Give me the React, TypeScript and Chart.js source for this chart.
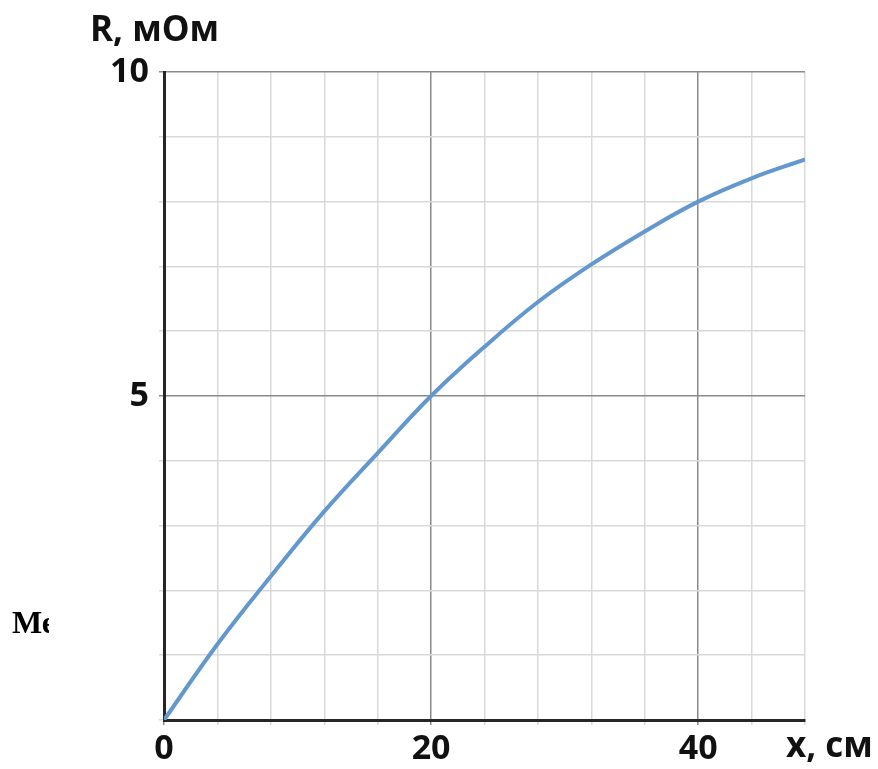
import React, { useEffect, useRef } from "react";
import { Chart, registerables } from "chart.js";

Chart.register(...registerables);

const xValues = [0, 4, 8, 12, 16, 20, 24, 28, 32, 36, 40, 44, 48];
const rValues = [0, 1.17, 2.22, 3.22, 4.12, 5.0, 5.76, 6.45, 7.03, 7.54, 8.0, 8.36, 8.65];
const xLabeled = [0, 20, 40];
const yLabeled = [5, 10];
const yTitle = "R, мОм";
const xTitle = "x, см";
const strayText = "Ме";

const FONT = "'Open Sans', 'DejaVu Sans', sans-serif";
const MINOR = "#d9d9d9";
const MAJOR = "#8a8a8a";

export default function App() {
  const ref = useRef<HTMLCanvasElement | null>(null);

  useEffect(() => {
    if (!ref.current) return;
    const chart = new Chart(ref.current, {
      type: "line",
      data: {
        datasets: [
          {
            data: xValues.map((x, i) => ({ x, y: rValues[i] })),
            borderColor: "#6298cd",
            borderWidth: 4,
            pointRadius: 0,
            tension: 0.4,
            fill: false,
          },
        ],
      },
      options: {
        animation: false,
        responsive: true,
        maintainAspectRatio: false,
        layout: { padding: { left: 0, top: 72, right: 73, bottom: 0 } },
        plugins: { legend: { display: false }, tooltip: { enabled: false } },
        scales: {
          x: {
            type: "linear",
            min: 0,
            max: 48,
            afterFit: (s: any) => {
              s.height = 49;
            },
            ticks: {
              stepSize: 4,
              autoSkip: false,
              maxRotation: 0,
              padding: 4,
              color: "#111",
              font: { family: FONT, size: 34, weight: "bold" },
              callback: (v: any) => (xLabeled.includes(Number(v)) ? String(v) : ""),
            },
            grid: {
              color: (c: any) => (xLabeled.includes(c.tick?.value) ? MAJOR : MINOR),
              tickColor: (c: any) => (xLabeled.includes(c.tick?.value) ? MAJOR : MINOR),
              lineWidth: 1.5,
              tickLength: 5,
            },
            border: { color: "#262626", width: 3 },
          },
          y: {
            min: 0,
            max: 10,
            afterFit: (s: any) => {
              s.width = 164;
            },
            ticks: {
              stepSize: 1,
              autoSkip: false,
              padding: 10,
              color: "#111",
              font: { family: FONT, size: 34, weight: "bold" },
              callback: (v: any) => (yLabeled.includes(Number(v)) ? String(v) : ""),
            },
            grid: {
              color: (c: any) => (yLabeled.includes(c.tick?.value) ? MAJOR : MINOR),
              tickColor: (c: any) => (yLabeled.includes(c.tick?.value) ? MAJOR : MINOR),
              lineWidth: 1.5,
              tickLength: 5,
            },
            border: { color: "#262626", width: 3 },
          },
        },
      },
    });
    return () => chart.destroy();
  }, []);

  const titleStyle: React.CSSProperties = {
    position: "absolute",
    fontFamily: FONT,
    fontWeight: 700,
    fontSize: 35,
    color: "#111",
    lineHeight: 1,
    whiteSpace: "nowrap",
  };

  return (
    <div style={{ position: "absolute", left: 0, top: 0, width: 878, height: 769, background: "#fff", overflow: "hidden" }}>
      <canvas ref={ref} />
      <div style={{ ...titleStyle, left: 90, top: 10 }}>{yTitle}</div>
      <div style={{ ...titleStyle, left: 786, top: 726 }}>{xTitle}</div>
      <div
        style={{
          position: "absolute",
          left: 12,
          top: 603,
          width: 37,
          overflow: "hidden",
          fontFamily: "'Liberation Serif', 'Times New Roman', serif",
          fontWeight: 700,
          fontSize: 32,
          lineHeight: 1.2,
          color: "#000",
          whiteSpace: "nowrap",
        }}
      >
        {strayText}
      </div>
    </div>
  );
}
